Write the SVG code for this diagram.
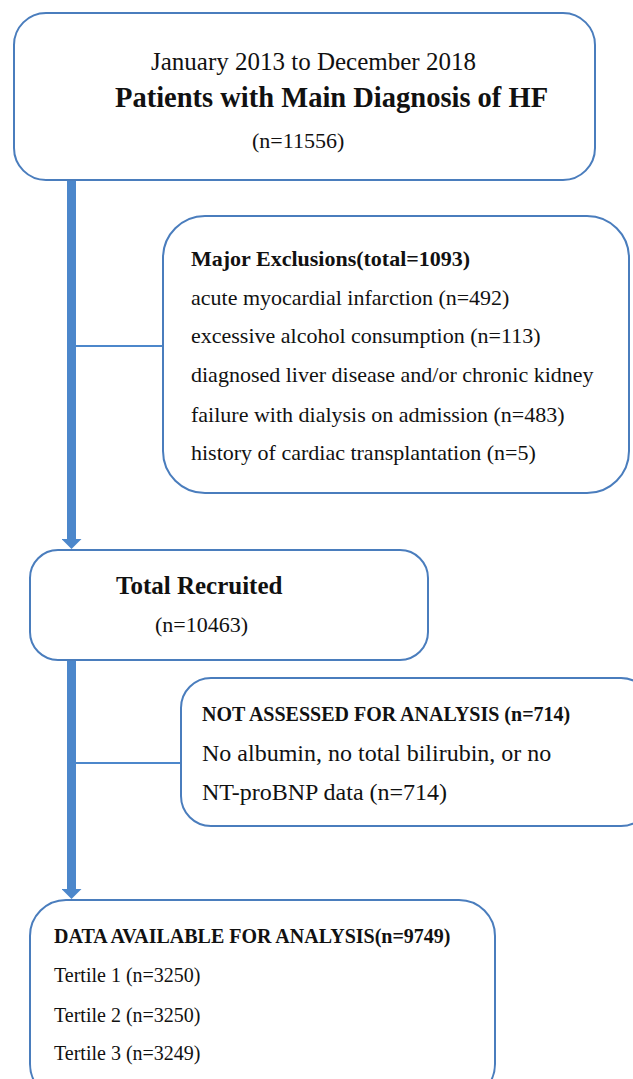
<svg xmlns="http://www.w3.org/2000/svg" width="633" height="1079" viewBox="0 0 633 1079">
<style>
.box{fill:#ffffff;stroke:#4a7dbd;stroke-width:2}
.t{font-family:"Liberation Serif","Times New Roman",serif;fill:#111}
.b{font-weight:bold}
.trunk{stroke:#4c87cb;stroke-width:9;fill:none}
.branch{stroke:#4c87cb;stroke-width:2;fill:none}
</style>
<defs>
<marker id="arr" viewBox="0 0 10 20" refX="0" refY="10" markerWidth="10" markerHeight="20" markerUnits="userSpaceOnUse" orient="auto">
<path d="M0,0 L10,10 L0,20 z" fill="#4c87cb"/>
</marker>
</defs>
<rect width="633" height="1079" fill="#ffffff"/>
<g id="connectors">
<line class="trunk" x1="71.5" y1="180" x2="71.5" y2="539" marker-end="url(#arr)"/>
<line class="branch" x1="76" y1="346" x2="163" y2="346"/>
<line class="trunk" x1="71.5" y1="660" x2="71.5" y2="889" marker-end="url(#arr)"/>
<line class="branch" x1="76" y1="763" x2="181" y2="763"/>
</g>
<g id="start">
<rect class="box" x="14" y="13" width="581" height="167" rx="32"/>
<text class="t" x="151" y="70" font-size="25">January 2013 to December 2018</text>
<text class="t b" x="115" y="107" font-size="28.5">Patients with Main Diagnosis of HF</text>
<text class="t" x="252" y="148" font-size="22">(n=11556)</text>
</g>
<g id="exclusions">
<rect class="box" x="163" y="216" width="466" height="277" rx="42"/>
<text class="t b" x="191" y="266" font-size="22">Major Exclusions(total=1093)</text>
<text class="t" x="191" y="305" font-size="22">acute myocardial infarction (n=492)</text>
<text class="t" x="191" y="343" font-size="22">excessive alcohol consumption (n=113)</text>
<text class="t" x="191" y="382" font-size="22">diagnosed liver disease and/or chronic kidney</text>
<text class="t" x="191" y="422" font-size="22">failure with dialysis on admission (n=483)</text>
<text class="t" x="191" y="460" font-size="22">history of cardiac transplantation (n=5)</text>
</g>
<g id="recruited">
<rect class="box" x="30" y="550" width="398" height="110" rx="28"/>
<text class="t b" x="116" y="594" font-size="25">Total Recruited</text>
<text class="t" x="155" y="632" font-size="22">(n=10463)</text>
</g>
<g id="not-assessed">
<rect class="box" x="181" y="678" width="470" height="148" rx="30"/>
<text class="t b" x="202" y="721" font-size="20">NOT ASSESSED FOR ANALYSIS (n=714)</text>
<text class="t" x="202" y="761" font-size="24">No albumin, no total bilirubin, or no</text>
<text class="t" x="202" y="800" font-size="24">NT-proBNP data (n=714)</text>
</g>
<g id="available">
<rect class="box" x="30" y="900" width="465" height="200" rx="36"/>
<text class="t b" x="54" y="943" font-size="20">DATA AVAILABLE FOR ANALYSIS(n=9749)</text>
<text class="t" x="54" y="982" font-size="20">Tertile 1 (n=3250)</text>
<text class="t" x="54" y="1022" font-size="20">Tertile 2 (n=3250)</text>
<text class="t" x="54" y="1060" font-size="20">Tertile 3 (n=3249)</text>
</g>
</svg>
